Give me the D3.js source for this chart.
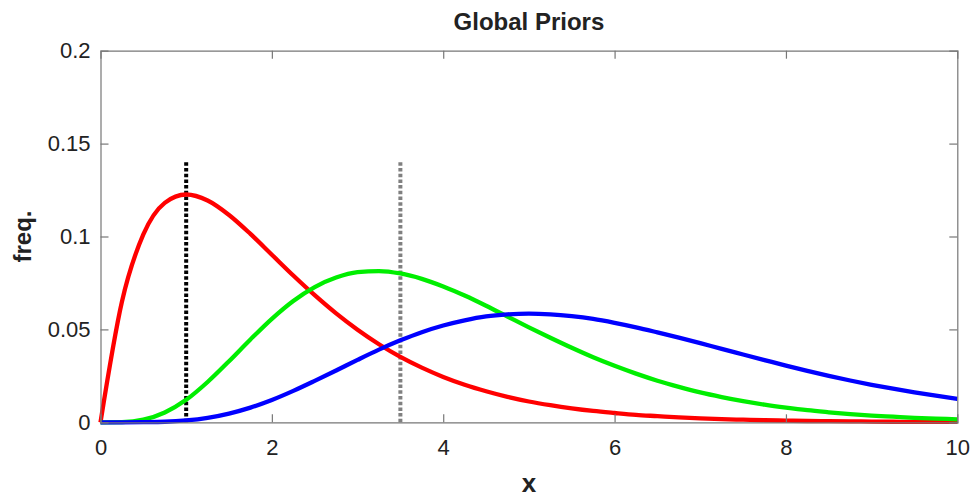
<!DOCTYPE html>
<html>
<head>
<meta charset="utf-8">
<script src="https://cdn.jsdelivr.net/npm/d3@7"></script>
<style>
  html, body { margin: 0; padding: 0; background: #fff; }
  svg text { font-family: "Liberation Sans", Arial, Helvetica, sans-serif; fill: #222; }
</style>
</head>
<body>
<svg id="chart" width="980" height="498"></svg>
<script>
// Sample grid along x (step 0.25)
const xs = [0,0.25,0.5,0.75,1,1.25,1.5,1.75,2,2.25,2.5,2.75,3,3.25,3.5,3.75,4,4.25,4.5,4.75,5,
            5.25,5.5,5.75,6,6.25,6.5,6.75,7,7.25,7.5,7.75,8,8.25,8.5,8.75,9,9.25,9.5,9.75,10];

// Prior densities at each grid point
const redVals = [0,0.0649,0.1011,0.1181,0.1226,0.1194,0.1116,0.1014,0.0902,0.0790,0.0684,0.0586,0.0498,
                 0.0420,0.0352,0.0294,0.0244,0.0202,0.0167,0.0137,0.0112,0.0092,0.0075,0.0061,0.0050,
                 0.0040,0.0033,0.0026,0.0021,0.0017,0.0014,0.0011,0.0009,0.0007,0.0006,0.0005,0.0004,
                 0.0003,0.0002,0.0002,0.0002];
const greenVals = [0,0.0001,0.0014,0.0053,0.0121,0.0217,0.0329,0.0446,0.0557,0.0653,0.0728,0.0779,0.0808,
                   0.0814,0.0801,0.0772,0.0731,0.0682,0.0627,0.0569,0.0511,0.0455,0.0401,0.0350,0.0304,
                   0.0262,0.0224,0.0191,0.0161,0.0136,0.0114,0.0095,0.0079,0.0065,0.0054,0.0044,0.0036,
                   0.0030,0.0024,0.0020,0.0016];
const blueVals = [0,0,0.0001,0.0003,0.0010,0.0024,0.0047,0.0079,0.0120,0.0169,0.0223,0.0279,0.0336,
                  0.0391,0.0441,0.0485,0.0521,0.0549,0.0570,0.0581,0.0585,0.0581,0.0571,0.0556,0.0535,
                  0.0511,0.0484,0.0456,0.0426,0.0395,0.0365,0.0335,0.0305,0.0277,0.0250,0.0225,0.0202,
                  0.0181,0.0161,0.0143,0.0126];

// Vertical markers: x position, top value
const markerX = [1, 3.5];
const markerTop = [0.14, 0.14];
const markerColors = ["#000000", "#808080"];

const xTicks = [0, 2, 4, 6, 8, 10];
const yTicks = [0, 0.05, 0.1, 0.15, 0.2];
const yTickLabels = ["0", "0.05", "0.1", "0.15", "0.2"];

const series = [
  { name: "red", values: redVals, color: "#ff0000" },
  { name: "green", values: greenVals, color: "#00ee00" },
  { name: "blue", values: blueVals, color: "#0000ff" }
];

const svg = d3.select("#chart");
const L = 100.5, R = 957.3, T = 50.7, B = 422.3;
const x = d3.scaleLinear().domain([0, 10]).range([L, R]);
const y = d3.scaleLinear().domain([0, 0.2]).range([B, T]);

const axisColor = "#777";
const tickLen = 8;

// Curves
const line = d3.line()
  .x((d, i) => x(xs[i]))
  .y(d => y(d))
  .curve(d3.curveMonotoneX);

// Dotted markers
markerX.forEach((mx, i) => {
  svg.append("line")
    .attr("x1", x(mx)).attr("x2", x(mx))
    .attr("y1", y(0)).attr("y2", y(markerTop[i]))
    .attr("stroke", markerColors[i])
    .attr("stroke-width", 4)
    .attr("stroke-dasharray", "3.5,2.2");
});

series.forEach(s => {
  svg.append("path")
    .datum(s.values)
    .attr("d", line)
    .attr("fill", "none")
    .attr("stroke", s.color)
    .attr("stroke-width", 4.3)
    .attr("stroke-linejoin", "round");
});

// Axes (ticks point inward, mirrored on top/right)
const gx = svg.append("g").attr("transform", `translate(0,${B})`)
  .call(d3.axisBottom(x).tickValues(xTicks).tickSize(-tickLen).tickPadding(17).tickFormat(d3.format("d")));
const gxt = svg.append("g").attr("transform", `translate(0,${T})`)
  .call(d3.axisTop(x).tickValues(xTicks).tickSize(-tickLen).tickFormat(""));
const gy = svg.append("g").attr("transform", `translate(${L},0)`)
  .call(d3.axisLeft(y).tickValues(yTicks).tickSize(-tickLen).tickPadding(10)
    .tickFormat((d, i) => yTickLabels[i]));
const gyr = svg.append("g").attr("transform", `translate(${R},0)`)
  .call(d3.axisRight(y).tickValues(yTicks).tickSize(-tickLen).tickFormat(""));

[gx, gxt, gy, gyr].forEach(g => {
  g.select(".domain").attr("stroke", axisColor).attr("stroke-width", 1.2);
  g.selectAll(".tick line").attr("stroke", axisColor).attr("stroke-width", 1.2);
  g.selectAll(".tick text").attr("font-size", 22).attr("fill", "#222")
    .attr("font-family", "'Liberation Sans', Arial, sans-serif");
});
// Hide the inward ticks that sit on the frame corners
gx.selectAll(".tick").filter(d => d === 0 || d === 10).select("line").attr("stroke", "none");
gxt.selectAll(".tick").filter(d => d === 0 || d === 10).select("line").attr("stroke", "none");
gy.selectAll(".tick").filter(d => d === 0 || d === 0.2).select("line").attr("stroke", "none");
gyr.selectAll(".tick").filter(d => d === 0 || d === 0.2).select("line").attr("stroke", "none");

// Labels
svg.append("text")
  .attr("x", (L + R) / 2).attr("y", 30)
  .attr("text-anchor", "middle")
  .attr("font-size", 24).attr("font-weight", "bold")
  .text("Global Priors");

svg.append("text")
  .attr("x", (L + R) / 2).attr("y", 492)
  .attr("text-anchor", "middle")
  .attr("font-size", 26).attr("font-weight", "bold")
  .text("x");

svg.append("text")
  .attr("transform", `translate(31,${(T + B) / 2}) rotate(-90)`)
  .attr("text-anchor", "middle")
  .attr("font-size", 24).attr("font-weight", "bold")
  .text("freq.");
</script>
</body>
</html>
